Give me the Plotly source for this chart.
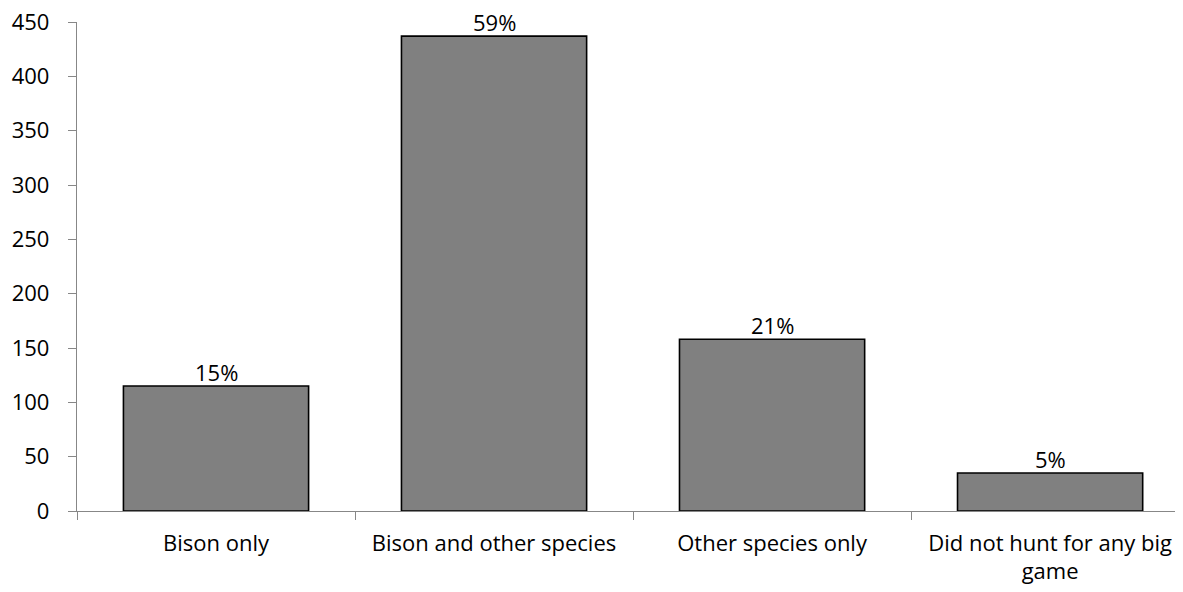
import plotly.graph_objects as go

categories = ["Bison only", "Bison and other species", "Other species only", "Did not hunt for any big<br>game"]
counts = [115, 437, 158, 35]
pct_labels = ["15%", "59%", "21%", "5%"]
y_ticks = [0, 50, 100, 150, 200, 250, 300, 350, 400, 450]

FONT = "'Open Sans', Carlito, Calibri, sans-serif"
FSIZE = 22
AXIS_GRAY = "#878787"

fig = go.Figure(
    go.Bar(
        x=categories,
        y=counts,
        marker=dict(color="#808080", line=dict(color="#000000", width=1.6)),
        hoverinfo="skip",
    )
)

for cat, val, lab in zip(categories, counts, pct_labels):
    fig.add_annotation(
        x=cat, y=val, text=lab, showarrow=False,
        xref="x", yref="y", yanchor="bottom", yshift=-3,
        font=dict(family=FONT, size=FSIZE, color="#000000"),
    )

fig.update_layout(
    width=1175,
    height=584,
    margin=dict(l=69, r=0, t=14, b=81, autoexpand=False),
    paper_bgcolor="white",
    plot_bgcolor="white",
    bargap=0.334,
    showlegend=False,
    font=dict(family=FONT, size=FSIZE, color="#000000"),
)

fig.update_xaxes(
    type="category",
    range=[-0.5, 3.478],
    automargin=False,
    showline=True,
    linecolor=AXIS_GRAY,
    linewidth=1.4,
    ticks="outside",
    tickson="boundaries",
    ticklen=8,
    tickcolor=AXIS_GRAY,
    tickwidth=1.4,
    showgrid=False,
    tickfont=dict(family=FONT, size=FSIZE, color="#000000"),
    ticklabelstandoff=12,
    ticklabeloverflow="allow",
)

fig.update_yaxes(
    range=[0, 450],
    automargin=False,
    tickvals=y_ticks,
    ticktext=[str(v) for v in y_ticks],
    showline=True,
    linecolor=AXIS_GRAY,
    linewidth=1.4,
    ticks="outside",
    ticklen=8,
    tickcolor=AXIS_GRAY,
    tickwidth=1.4,
    showgrid=False,
    zeroline=False,
    tickfont=dict(family=FONT, size=FSIZE, color="#000000"),
    ticklabelstandoff=14,
    ticklabeloverflow="allow",
)

fig.write_html("out.html")
